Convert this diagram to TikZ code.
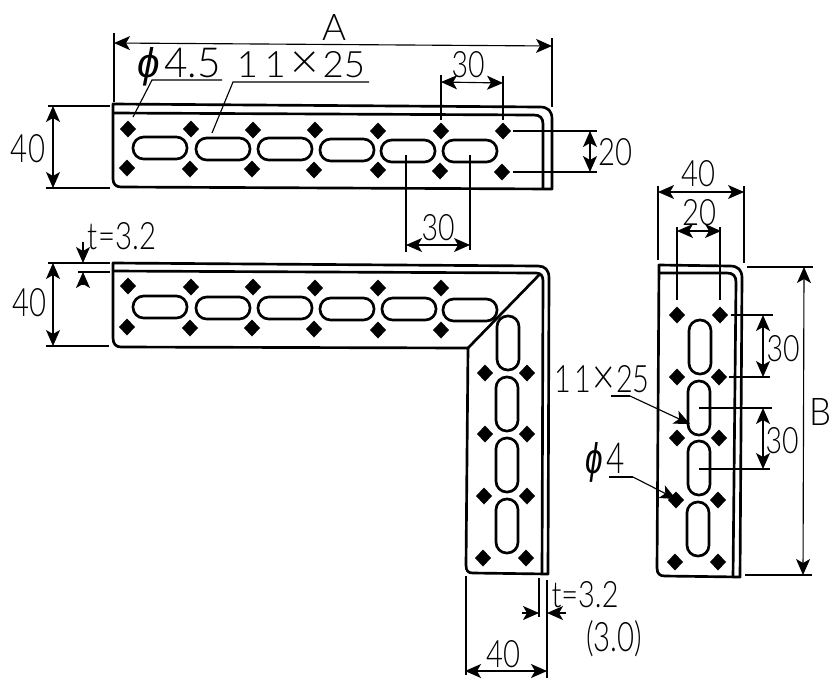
\documentclass[tikz,border=0pt]{standalone}
\usepackage{graphicx}
\usepackage{fontspec}
\usetikzlibrary{arrows.meta}
\newfontfamily\dimf{Lato Light}
\newfontfamily\phif{Liberation Sans Italic}
\newdimen\pxu \pxu=0.75pt
\tikzset{
  part/.style={line width=2pt,line join=round},
  thinl/.style={line width=0.85pt},
  dimarrow/.style={thinl,{Stealth[length=12pt,width=10.5pt,inset=3pt]}-{Stealth[length=12pt,width=10.5pt,inset=3pt]}},
  onearrow/.style={thinl,-{Stealth[length=12pt,width=10.5pt,inset=3pt]}},
  lbl/.style={inner sep=0pt,outer sep=0pt}
}
% name, cx, cy, w, h (pixels), text
\newcommand{\lab}[6]{\node[lbl] (#1) at (#2,#3) {\resizebox{#4\pxu}{#5\pxu}{\dimf #6}};}
\newcommand{\dia}[2]{\fill[line join=round] (#1-8,#2) -- (#1,#2-8.5) -- (#1+8,#2) -- (#1,#2+8.5) -- cycle;}
\newcommand{\hslot}[2]{\draw[part,rounded corners=8pt] (#1-27,#2-11) rectangle (#1+27,#2+11);}
\newcommand{\vslot}[2]{\draw[part,rounded corners=8pt] (#1-11,#2-27) rectangle (#1+11,#2+27);}
\newcommand{\bigx}{\raisebox{-0.04em}{\scalebox{1.35}{×}}}
\begin{document}
\begin{tikzpicture}[x=0.75pt,y=-0.75pt]
\useasboundingbox (0,0) rectangle (837,693);
% ---------- top bracket
\draw[part] (113,104) -- (540,107) .. controls (548,107) and (552,111) .. (552,119) -- (552,189) -- (121,187) .. controls (116,187) and (113,184) .. (113,179) -- cycle;
\draw[part] (113,113) -- (534,115) .. controls (540,115) and (543,118) .. (543,124) -- (543,189);
\foreach \x/\y in {128/129,191/129,253/130,315/130,378/131,441/131,503/131,127/168,190/169,252/169,314/170,378/170,440/171,502/172}{\dia{\x}{\y}}
\foreach \x/\y in {160/148,223/149,285/149,347/150,408/151,470/151}{\hslot{\x}{\y}}
% ---------- L bracket
\draw[part] (113,263) -- (538,266) .. controls (545,266) and (549,270) .. (549,278) -- (548,574) -- (473,573) .. controls (468,573) and (466,571) .. (466,565) -- (468,348) -- (121,347) .. controls (116,347) and (113,344) .. (113,338) -- cycle;
\draw[part] (113,271) -- (536,273) .. controls (541,273) and (543,276) .. (543,281) -- (542,574);
\draw[part] (468,348) -- (540,274);
\foreach \x/\y in {128/286,191/287,253/287,315/288,378/288,441/288,127/327,190/328,252/328,314/329,378/330,441/330,
 485/373,527/373,485/434,527/434,484/496,527/496,483/558,526/558}{\dia{\x}{\y}}
\foreach \x/\y in {160/307,223/308,285/308,347/309,409/309,470/310}{\hslot{\x}{\y}}
\foreach \x/\y in {508/343,507/404,507/465,507/526}{\vslot{\x}{\y}}
% ---------- right bracket
\draw[part] (659,265) -- (730,266) .. controls (738,266) and (742,270) .. (742,278) -- (740,577) -- (665,576) .. controls (660,576) and (657,574) .. (657,568) -- cycle;
\draw[part] (659,273) -- (727,273) .. controls (733,273) and (736,276) .. (736,282) -- (733,577);
\foreach \x/\y in {677/315,720/315,677/377,719/377,677/438,719/438,676/500,718/500,675/562,718/562}{\dia{\x}{\y}}
\foreach \x/\y in {700/347,699/408,699/468,698/529}{\vslot{\x}{\y}}
% ---------- labels
\lab{lA}{334}{27}{24}{26}{A}
\lab{lphiA}{179}{67}{83}{30}{{\phif ϕ}\kern0.1em 4.5}
\lab{lslotA}{301}{65}{128}{26}{1\kern0.18em 1\kern0.12em\bigx\kern0.1em 25}
\lab{lthirtyA}{468}{65}{33}{26}{30}
\lab{lthirtyB}{438}{228}{33}{26}{30}
\lab{ltwentyA}{615}{152}{34}{27}{20}
\lab{lfortyA}{28}{149}{34}{28}{40}
\lab{ltA}{122}{236}{68}{27}{t=3.2}
\lab{lfortyB}{30}{303}{34}{28}{40}
\lab{lfortyC}{503}{654}{34}{27}{40}
\lab{ltB}{585}{595}{67}{26}{t=3.2}
\lab{lthree}{614}{639}{56}{31}{(3.0)}
\lab{lfortyD}{698}{174}{34}{26}{40}
\lab{ltwentyB}{699}{213}{34}{26}{20}
\lab{lB}{820}{412}{22}{27}{B}
\lab{lthirtyC}{783}{349}{33}{26}{30}
\lab{lthirtyD}{782}{441}{33}{26}{30}
\lab{lslotB}{602}{380}{95}{27}{1\kern0.12em 1\kern0.05em\bigx\kern0.02em 25}
\lab{lphiB}{605}{462}{39}{31}{{\phif ϕ}\kern0.1em 4}
% ---------- leaders
\coordinate (uA1) at (222,80); \coordinate (uA2) at (152,80); \coordinate (tA) at (133,117);
\draw[thinl] (uA1) -- (uA2) -- (tA);
\coordinate (uB1) at (369,82); \coordinate (uB2) at (233,82); \coordinate (tB) at (212,133);
\draw[thinl] (uB1) -- (uB2) -- (tB);
\coordinate (uC1) at (611,396); \coordinate (uC2) at (630,396); \coordinate (tC) at (690,424);
\draw[thinl] (uC1) -- (uC2);
\draw[onearrow] (uC2) -- (tC);
\coordinate (uD1) at (609,477); \coordinate (uD2) at (633,477); \coordinate (tD) at (676,499);
\draw[thinl] (uD1) -- (uD2);
\draw[onearrow] (uD2) -- (tD);
% ---------- dimensions: top bracket
\draw[thinl] (114,33) -- (114,102) (552,38) -- (552,107);
\draw[dimarrow] (114,43) -- (552,46);
\draw[thinl] (441,75) -- (441,120) (503,76) -- (503,120);
\draw[dimarrow] (441,82) -- (503,83);
\draw[thinl] (406,155) -- (406,252) (470,155) -- (470,250);
\draw[dimarrow] (406,245) -- (470,245);
\draw[thinl] (513,131) -- (597,131) (513,172) -- (597,172);
\draw[dimarrow] (590,131) -- (590,172);
\draw[thinl] (48,106) -- (110,106) (46,188) -- (110,188);
\draw[dimarrow] (53,106) -- (53,188);
% ---------- dimensions: L bracket
\draw[thinl] (48,263) -- (110,263) (78,272) -- (110,272) (46,346) -- (109,346);
\draw[dimarrow] (53,263) -- (53,346);
\draw[onearrow] (83,242) -- (83,263);
\draw[onearrow] (83,285) -- (83,272);
\draw[thinl] (466,576) -- (466,675) (547,580) -- (547,678) (539,578) -- (539,617);
\draw[dimarrow] (465,671) -- (547,671);
\draw[onearrow] (522,613) -- (539,613);
\draw[onearrow] (566,613) -- (547,613);
% ---------- dimensions: right bracket
\draw[thinl] (658,186) -- (658,260) (744,186) -- (744,263);
\draw[dimarrow] (658,192) -- (744,192);
\draw[thinl] (677,227) -- (677,300) (720,227) -- (720,300);
\draw[dimarrow] (677,231) -- (721,231);
\draw[thinl] (747,267) -- (813,267) (745,575) -- (812,575);
\draw[dimarrow] (804,267) -- (803,575);
\draw[thinl] (731,315) -- (773,315) (729,377) -- (770,377);
\draw[dimarrow] (763,315) -- (763,377);
\draw[thinl] (699,408) -- (772,408) (699,469) -- (770,469);
\draw[dimarrow] (763,408) -- (763,469);
\end{tikzpicture}
\end{document}
